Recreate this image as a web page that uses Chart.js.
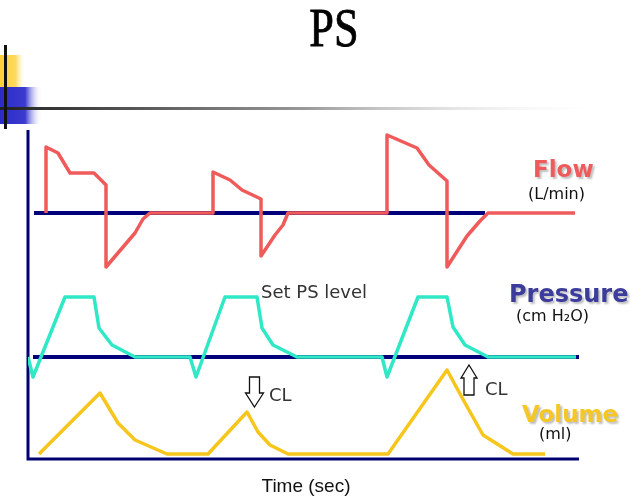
<!DOCTYPE html>
<html>
<head>
<meta charset="utf-8">
<script src="https://cdn.jsdelivr.net/npm/chart.js@4.4.1/dist/chart.umd.min.js"></script>
<style>
    html, body { margin: 0; padding: 0; background: #fff; }
    canvas { display: block; }
</style>
</head>
<body>
<canvas id="psChart" width="643" height="501"></canvas>
<script>
// Time axis is unitless (same for all three traces), values are relative to each trace's baseline
const flowTime   = [18, 18, 30, 42, 66, 78, 78, 107, 115, 122, 185, 185, 202, 214, 233, 233, 247, 255, 260, 359, 359, 389, 401, 419, 419, 439, 452, 460, 547];
const flowValues = [0, 66, 60, 40, 40, 28, -54, -20, -6, 0, 0, 41, 33, 23, 14, -43, -22, -12, 0, 0, 78, 65, 48, 32, -54, -23, -8, 0, 0];

const pressureTime   = [0, 5, 37, 66, 71, 84, 107, 162, 168, 197, 229, 234, 245, 269, 354, 359, 390, 419, 425, 437, 460, 548];
const pressureValues = [0, -20, 60, 60, 29, 12, 0, 0, -20, 60, 60, 29, 12, 0, 0, -20, 60, 60, 30, 12, 0, 0];

const volumeTime   = [11, 72, 90, 107, 139, 180, 219, 230, 242, 260, 360, 419, 437, 455, 485, 517];
const volumeValues = [0, 61, 31, 14, 0, 0, 42, 22, 9, 0, 0, 84, 51, 19, 0, 0];

// zero lines drawn under the flow and pressure traces
const flowBaseTime = [6, 457];
const pressureBaseTime = [5, 551];

function toPoints(times, values) {
    return times.map((t, i) => ({ x: t, y: values[i] }));
}

function drawArrow(ctx, cx, tipY, baseY, headY, shaftW, headW) {
    ctx.beginPath();
    ctx.moveTo(cx, tipY);
    ctx.lineTo(cx + headW / 2, headY);
    ctx.lineTo(cx + shaftW / 2, headY);
    ctx.lineTo(cx + shaftW / 2, baseY);
    ctx.lineTo(cx - shaftW / 2, baseY);
    ctx.lineTo(cx - shaftW / 2, headY);
    ctx.lineTo(cx - headW / 2, headY);
    ctx.closePath();
    ctx.fillStyle = '#fff';
    ctx.fill();
    ctx.strokeStyle = '#111';
    ctx.lineWidth = 1.3;
    ctx.stroke();
}

// Slide decoration, axes frame and labels
const slidePlugin = {
    id: 'slide',
    beforeDatasetsDraw(chart) {
        const ctx = chart.ctx;
        const area = chart.chartArea;
        ctx.save();
        ctx.strokeStyle = '#000070';
        ctx.lineWidth = 3;
        ctx.beginPath();
        ctx.moveTo(area.left, area.top);
        ctx.lineTo(area.left, area.bottom);
        ctx.lineTo(area.right, area.bottom);
        ctx.stroke();
        ctx.restore();
    },
    afterDraw(chart) {
        const ctx = chart.ctx;
        ctx.save();

        // top-left ornament
        let g = ctx.createLinearGradient(0, 0, 26, 0);
        g.addColorStop(0, '#ffcf3a');
        g.addColorStop(0.6, '#ffd95e');
        g.addColorStop(1, 'rgba(255,255,255,0)');
        ctx.fillStyle = g;
        ctx.fillRect(0, 55, 26, 32);
        g = ctx.createLinearGradient(0, 0, 42, 0);
        g.addColorStop(0, '#2b2bc8');
        g.addColorStop(0.6, '#3b3bd0');
        g.addColorStop(1, 'rgba(255,255,255,0)');
        ctx.fillStyle = g;
        ctx.fillRect(0, 87, 42, 37);
        g = ctx.createLinearGradient(0, 0, 610, 0);
        g.addColorStop(0, '#222');
        g.addColorStop(0.5, '#999');
        g.addColorStop(1, 'rgba(255,255,255,0)');
        ctx.fillStyle = g;
        ctx.fillRect(0, 107, 610, 3);
        ctx.fillStyle = '#111';
        ctx.fillRect(4, 45, 3, 84);

        // title
        ctx.fillStyle = '#000';
        ctx.strokeStyle = '#000';
        ctx.lineWidth = 0.8;
        ctx.textBaseline = 'alphabetic';
        ctx.textAlign = 'center';
        ctx.save();
        ctx.translate(334, 46);
        ctx.scale(0.82, 1);
        ctx.font = '54px "Liberation Serif"';
        ctx.fillText('PS', 0, 0);
        ctx.strokeText('PS', 0, 0);
        ctx.restore();

        // trace names
        ctx.textAlign = 'left';
        ctx.textBaseline = 'middle';
        ctx.save();
        ctx.shadowColor = 'rgba(0,0,0,0.25)';
        ctx.shadowOffsetX = 2;
        ctx.shadowOffsetY = 2;
        ctx.shadowBlur = 2;
        ctx.font = 'bold 23px "DejaVu Sans"';
        ctx.fillStyle = '#ef5a5a';
        ctx.fillText('Flow', 533, 171);
        ctx.font = 'bold 24px "DejaVu Sans"';
        ctx.fillStyle = '#3c3c9c';
        ctx.fillText('Pressure', 509, 296);
        ctx.font = 'bold 23px "DejaVu Sans"';
        ctx.fillStyle = '#f6c623';
        ctx.fillText('Volume', 522, 416);
        ctx.restore();

        ctx.fillStyle = '#111';
        ctx.font = '16px "DejaVu Sans"';
        ctx.fillText('(L/min)', 528, 195);
        ctx.fillText('(cm H\u2082O)', 516, 317);
        ctx.fillText('(ml)', 539, 435);

        ctx.fillStyle = '#333';
        ctx.font = '18px "DejaVu Sans"';
        ctx.fillText('Set PS level', 261, 293);
        ctx.fillText('CL', 269, 396);
        ctx.fillText('CL', 485, 390);

        drawArrow(ctx, 254.5, 407, 377, 393, 10, 18);
        drawArrow(ctx, 469, 365, 395, 378, 10, 16);

        ctx.fillStyle = '#111';
        ctx.font = '19px "Liberation Sans"';
        ctx.textAlign = 'center';
        ctx.fillText('Time (sec)', 306, 487);

        ctx.restore();
    }
};

const lineStyle = {
    fill: false,
    tension: 0,
    pointRadius: 0,
    borderJoinStyle: 'round',
    borderCapStyle: 'butt'
};

const chart = new Chart(document.getElementById('psChart'), {
    type: 'line',
    data: {
        datasets: [
            Object.assign({ label: 'Flow', data: toPoints(flowTime, flowValues), yAxisID: 'yFlow', borderColor: '#ef5a5a', borderWidth: 3.5 }, lineStyle),
            Object.assign({ label: 'Pressure', data: toPoints(pressureTime, pressureValues), yAxisID: 'yPressure', borderColor: '#2fe8c6', borderWidth: 3.5 }, lineStyle),
            Object.assign({ label: 'Volume', data: toPoints(volumeTime, volumeValues), yAxisID: 'yVolume', borderColor: '#f6c61c', borderWidth: 3.5 }, lineStyle),
            Object.assign({ label: 'Flow zero', data: toPoints(flowBaseTime, [0, 0]), yAxisID: 'yFlow', borderColor: '#00007a', borderWidth: 4 }, lineStyle),
            Object.assign({ label: 'Pressure zero', data: toPoints(pressureBaseTime, [0, 0]), yAxisID: 'yPressure', borderColor: '#00007a', borderWidth: 4 }, lineStyle)
        ]
    },
    options: {
        responsive: false,
        animation: false,
        events: [],
        layout: { padding: { left: 28, right: 64, top: 130, bottom: 42 } },
        plugins: {
            legend: { display: false },
            tooltip: { enabled: false }
        },
        scales: {
            x: { type: 'linear', min: 0, max: 551, display: false },
            yFlow: { type: 'linear', min: -246, max: 83, display: false },
            yPressure: { type: 'linear', min: -102, max: 227, display: false },
            yVolume: { type: 'linear', min: -5, max: 324, display: false }
        }
    },
    plugins: [slidePlugin]
});
</script>
</body>
</html>
